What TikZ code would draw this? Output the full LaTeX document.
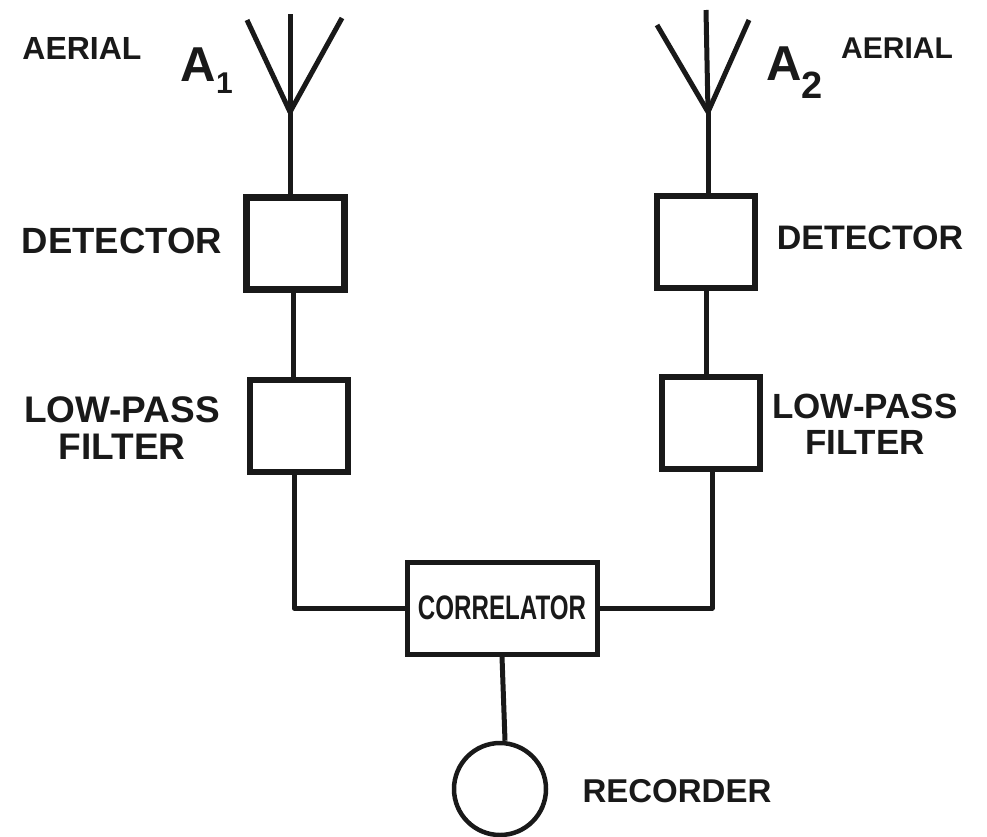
\documentclass[tikz,border=0pt]{standalone}
\usepackage{fontspec}
\setmainfont{Liberation Sans}
\usepackage{tikz}
\usetikzlibrary{positioning}

\begin{document}
\begin{tikzpicture}[
    x=1pt, y=-1pt,
    box/.style={draw=black!90, line width=5.5pt, minimum width=98pt, minimum height=92pt, inner sep=0pt},
    corr/.style={draw=black!90, line width=5pt, minimum width=190pt, minimum height=92pt, inner sep=0pt, text=black!90, font=\fontsize{34}{36}\selectfont\bfseries},
    rec/.style={draw=black!90, circle, line width=4.5pt, minimum size=92pt, inner sep=0pt},
    lbl/.style={text=black!90, align=center, inner sep=0pt, font=\bfseries},
    sym/.style={text=black!90, inner sep=0pt, font=\fontsize{49}{52}\selectfont\bfseries},
    line/.style={draw=black!90, line width=5pt, line join=round}
]
\useasboundingbox (0,0) rectangle (987,836);

% Left detector chain.
\node[box, line width=7pt] (det1) at (295,243) {};
\node[box] (filt1) at (299,426) {};
% Right detector chain.
\node[box] (det2) at (706,242) {};
\node[box] (filt2) at (711,423) {};
% Correlator and recorder.
\node[corr] (corr) at (502,608) {\scalebox{.71}[1]{CORRELATOR}};
\node[rec] (rec) at (500,789) {};

% Aerials.
\coordinate (ant1) at (290,112);
\coordinate (ant2) at (708,112);
\draw[line] (ant1) -- (247,20);
\draw[line] (ant1) -- (290,14);
\draw[line] (ant1) -- (342,18);
\draw[line] (ant2) -- (657,25);
\draw[line] (ant2) -- (706,10);
\draw[line] (ant2) -- (749,20);

% Connections.
\draw[line] (ant1) -- (det1.north -| ant1);
\draw[line] (ant2) -- (det2.north -| ant2);
\draw[line] (det1.south -| 293,0) -- (filt1.north -| 293,0);
\draw[line] (det2.south -| 706,0) -- (filt2.north -| 706,0);
\draw[line] (filt1.south -| 294,0) |- (corr.west);
\draw[line] (filt2.south -| 712,0) |- (corr.east);
\draw[line] (corr.south -| 502,0) -- (rec.north -| 505,0);

% Labels.
\node[lbl, font=\fontsize{32}{34}\selectfont\bfseries] (aer1) at (82,48) {AERIAL};
\node[lbl, font=\fontsize{30}{32}\selectfont\bfseries] (aer2) at (897,48) {AERIAL};
\node[sym] (a1) at (207,71) {A\textsubscript{\fontsize{30}{32}\selectfont 1}};
\node[sym] (a2) at (795,73) {A\textsubscript{\fontsize{38}{40}\selectfont 2}};
\node[lbl, font=\fontsize{36.5}{38}\selectfont\bfseries] (ldet1) at (122,241) {DETECTOR};
\node[lbl, font=\fontsize{34}{36}\selectfont\bfseries] (ldet2) at (870,238) {DETECTOR};
\node[lbl, font=\fontsize{37}{37}\selectfont\bfseries] (lfilt1) at (122,428) {LOW-PASS\\FILTER};
\node[lbl, font=\fontsize{35}{36}\selectfont\bfseries] (lfilt2) at (865,424) {LOW-PASS\\FILTER};
\node[lbl, font=\fontsize{33}{35}\selectfont\bfseries] (lrec) at (677,791) {RECORDER};
\end{tikzpicture}
\end{document}
